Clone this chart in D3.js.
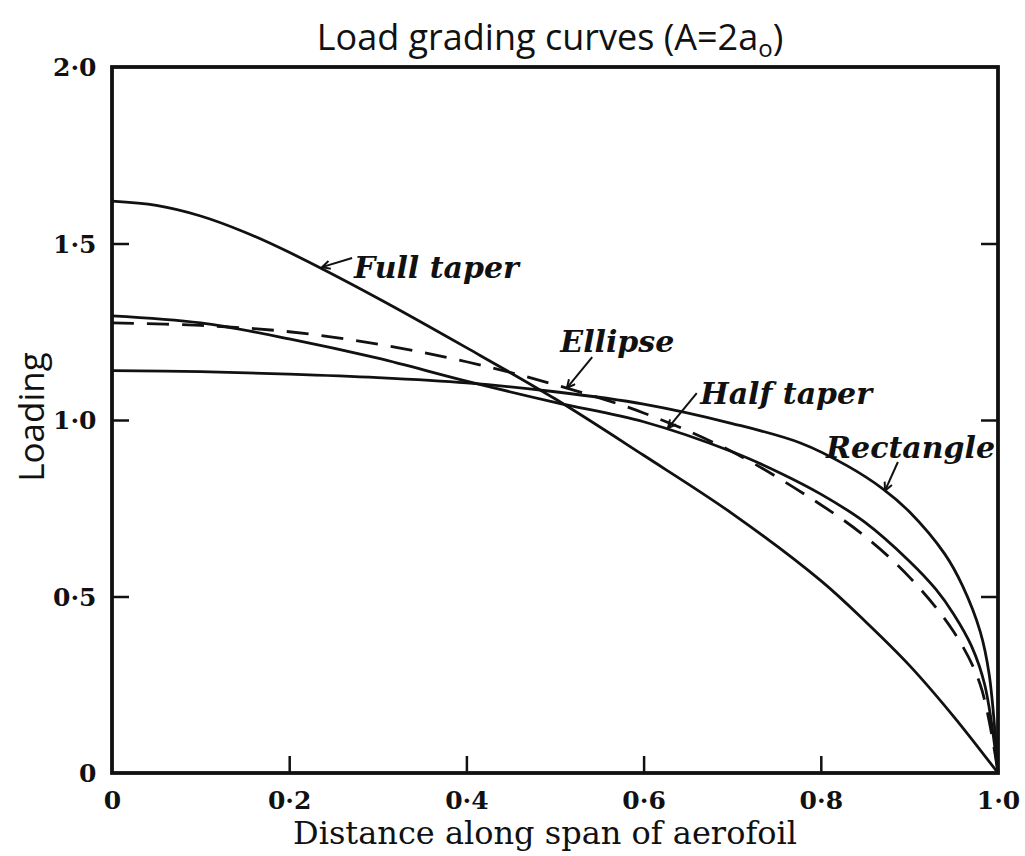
<!DOCTYPE html>
<html><head><meta charset="utf-8">
<script src="https://cdn.jsdelivr.net/npm/d3@7"></script>
<style>body{margin:0;background:#fff}</style>
</head><body><svg id="c" width="1025" height="856"></svg>
<script>
// ---- data ----
const fullTaperX = [0, 0.05, 0.1, 0.15, 0.2, 0.3, 0.4, 0.5, 0.6, 0.7, 0.8, 0.85, 0.9, 0.95, 1.0];
const fullTaperY = [1.62, 1.608, 1.578, 1.532, 1.475, 1.345, 1.205, 1.06, 0.90, 0.735, 0.545, 0.43, 0.305, 0.16, 0];
const ellipseX = [0, 0.1, 0.2, 0.3, 0.4, 0.5, 0.6, 0.7, 0.8, 0.85, 0.9, 0.95, 0.98, 1.0];
const ellipseY = [1.275, 1.268, 1.25, 1.215, 1.165, 1.10, 1.02, 0.91, 0.76, 0.67, 0.555, 0.40, 0.25, 0];
const halfTaperX = [0, 0.1, 0.2, 0.3, 0.4, 0.5, 0.6, 0.7, 0.754, 0.8, 0.85, 0.9, 0.93, 0.95, 0.97, 0.985, 1.0];
const halfTaperY = [1.295, 1.275, 1.23, 1.175, 1.11, 1.05, 0.995, 0.91, 0.85, 0.79, 0.71, 0.60, 0.52, 0.45, 0.36, 0.25, 0];
const rectangleX = [0, 0.1, 0.2, 0.3, 0.4, 0.5, 0.6, 0.7, 0.777, 0.83, 0.87, 0.9, 0.94, 0.96, 0.98, 0.99, 1.0];
const rectangleY = [1.14, 1.137, 1.13, 1.12, 1.105, 1.08, 1.045, 0.99, 0.935, 0.87, 0.805, 0.74, 0.62, 0.53, 0.40, 0.28, 0];
const xTickValues = [0, 0.2, 0.4, 0.6, 0.8, 1.0];
const xTickLabels = ["0", "0·2", "0·4", "0·6", "0·8", "1·0"];
const yTickValues = [0, 0.5, 1.0, 1.5, 2.0];
const yTickLabels = ["0", "0·5", "1·0", "1·5", "2·0"];
const seriesNames = ["Full taper", "Ellipse", "Half taper", "Rectangle"];
// annotation: [label, tipX, tipY, tailX, tailY, textX, textY] in data units
const annotations = [
  ["Full taper", 0.237, 1.433, 0.271, 1.459, 0.273, 1.402],
  ["Ellipse", 0.5135, 1.091, 0.542, 1.178, 0.506, 1.193],
  ["Half taper", 0.6275, 0.977, 0.660, 1.076, 0.664, 1.045],
  ["Rectangle", 0.8725, 0.80, 0.887, 0.881, 0.806, 0.892]
];
const titleText = "Load grading curves (A=2a";
const xAxisLabel = "Distance along span of aerofoil";
const yAxisLabel = "Loading";

// ---- drawing ----
const svg = d3.select("#c");
const L = 112, R = 998, T = 67, B = 773;
const x = d3.scaleLinear().domain([0, 1]).range([L, R]);
const y = d3.scaleLinear().domain([0, 2]).range([B, T]);
const ink = "#111";

const line = d3.line().x(d => x(d[0])).y(d => y(d[1])).curve(d3.curveCatmullRom.alpha(0.5));
const zip = (a, b) => a.map((v, i) => [v, b[i]]);
const series = [
  {data: zip(fullTaperX, fullTaperY), dash: null},
  {data: zip(ellipseX, ellipseY), dash: "22,13"},
  {data: zip(halfTaperX, halfTaperY), dash: null},
  {data: zip(rectangleX, rectangleY), dash: null}
];
svg.selectAll("path.s").data(series).join("path")
  .attr("class", "s")
  .attr("d", d => line(d.data))
  .attr("fill", "none").attr("stroke", ink).attr("stroke-width", 2.8)
  .attr("stroke-dasharray", d => d.dash);

// frame
svg.append("rect").attr("x", L).attr("y", T).attr("width", R - L).attr("height", B - T)
  .attr("fill", "none").attr("stroke", ink).attr("stroke-width", 3.8);

// axes (inward ticks)
const tickFont = "'DejaVu Serif', serif";
const ax = svg.append("g").attr("transform", `translate(0,${B})`)
  .call(d3.axisBottom(x).tickValues(xTickValues).tickSizeInner(-17).tickSizeOuter(0)
    .tickPadding(30).tickFormat((d, i) => xTickLabels[i]));
const ay = svg.append("g").attr("transform", `translate(${L},0)`)
  .call(d3.axisLeft(y).tickValues(yTickValues).tickSizeInner(-17).tickSizeOuter(0)
    .tickPadding(28).tickFormat((d, i) => yTickLabels[i]));
const ayr = svg.append("g").attr("transform", `translate(${R},0)`)
  .call(d3.axisRight(y).tickValues(yTickValues).tickSizeInner(-17).tickSizeOuter(0).tickFormat(""));
[ax, ay, ayr].forEach(g => {
  g.select(".domain").remove();
  g.selectAll(".tick line").attr("stroke", ink).attr("stroke-width", 2.5);
  g.selectAll(".tick text").attr("fill", ink).attr("font-family", tickFont)
    .attr("font-size", 25).attr("font-weight", "bold");
});
ax.selectAll(".tick line").filter(d => d === 0 || d === 1).remove();
ay.selectAll(".tick line").filter(d => d === 0 || d === 2).remove();
ayr.selectAll(".tick line").filter(d => d === 0 || d === 2).remove();
ax.selectAll(".tick text").attr("dy", "0.25em");
ay.selectAll(".tick text").attr("dx", "0.5em").attr("dy", "0.35em");

// title
const title = svg.append("text").attr("x", 550).attr("y", 50).attr("text-anchor", "middle")
  .attr("font-family", "'Open Sans', sans-serif").attr("font-size", 36).attr("fill", ink);
title.append("tspan").text(titleText);
title.append("tspan").attr("font-size", 24).attr("dy", 7).text("o");
title.append("tspan").attr("dy", -7).text(")");

// axis labels
svg.append("text").attr("x", 545).attr("y", 844).attr("text-anchor", "middle")
  .attr("font-family", "'DejaVu Serif', serif").attr("font-size", 32).attr("fill", ink)
  .text(xAxisLabel);
svg.append("text").attr("transform", `translate(44,${y(1.0) - 3}) rotate(-90)`)
  .attr("text-anchor", "middle").attr("font-family", "'Open Sans', sans-serif")
  .attr("font-size", 35).attr("fill", ink).text(yAxisLabel);

// annotations
svg.append("defs").append("marker").attr("id", "ah").attr("viewBox", "0 0 10 10")
  .attr("refX", 9).attr("refY", 5).attr("markerWidth", 10).attr("markerHeight", 10)
  .attr("markerUnits", "userSpaceOnUse").attr("orient", "auto")
  .append("path").attr("d", "M1,1 L9,5 L1,9").attr("fill", "none").attr("stroke", ink).attr("stroke-width", 2);
const ann = svg.selectAll("g.ann").data(annotations).join("g").attr("class", "ann");
ann.append("line")
  .attr("x1", d => x(d[3])).attr("y1", d => y(d[4]))
  .attr("x2", d => x(d[1])).attr("y2", d => y(d[2]))
  .attr("stroke", ink).attr("stroke-width", 2).attr("marker-end", "url(#ah)");
ann.append("text").attr("x", d => x(d[5])).attr("y", d => y(d[6]))
  .attr("font-family", "'DejaVu Serif', serif").attr("font-style", "italic").attr("font-weight", "bold")
  .attr("font-size", 30).attr("fill", ink).text(d => d[0]);
</script></body></html>
